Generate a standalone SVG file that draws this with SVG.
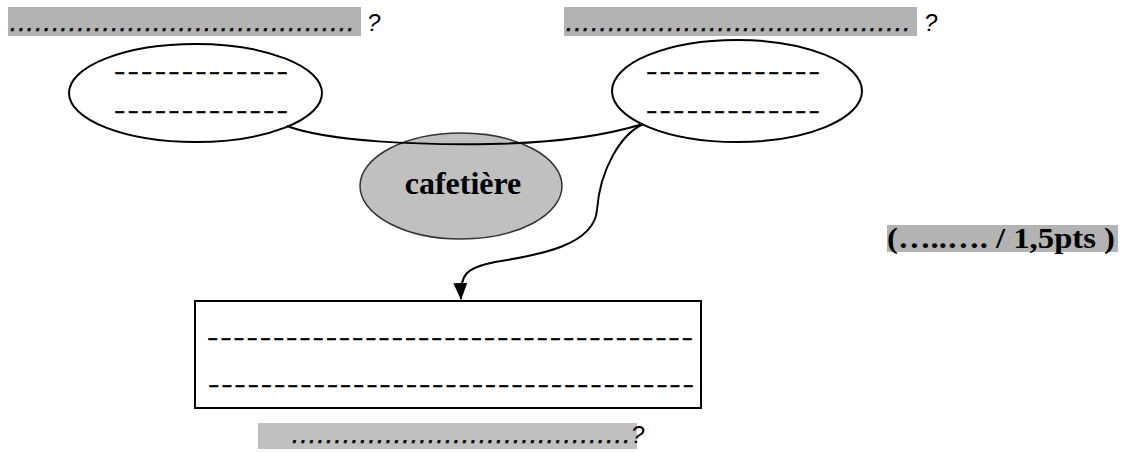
<svg xmlns="http://www.w3.org/2000/svg" width="1125" height="452" viewBox="0 0 1125 452">
<defs>
<marker id="arr" markerWidth="17" markerHeight="14" refX="16" refY="7" orient="auto" markerUnits="userSpaceOnUse" viewBox="0 0 17 14">
<path d="M0,0 L17,7 L0,14 Z" fill="#000"/>
</marker>
<style>
.hl{fill:#b3b3b3}
.hl2{fill:#c0c0c0}
.q{font-family:"Liberation Sans",Arial,sans-serif;font-style:italic;font-size:24px;fill:#000}
.dots{stroke:#000;stroke-width:0.6}
.dash{font-family:"Liberation Sans",Arial,sans-serif;font-weight:bold;font-size:17px;fill:#000;stroke:#000;stroke-width:0.5}
.node{fill:#fff;stroke:#000;stroke-width:2}
.b{font-family:"Liberation Serif","Times New Roman",serif;font-weight:bold;fill:#000}
.conn{fill:none;stroke:#000;stroke-width:2}
</style>
</defs>
<rect width="1125" height="452" fill="#fff"/>
<g id="q1">
<rect class="hl" x="8" y="7" width="353" height="29"/>
<text class="q dots" x="10" y="31" textLength="344" lengthAdjust="spacing">.........................................</text>
<text class="q" x="367" y="31">?</text>
</g>
<g id="q2">
<rect class="hl" x="564" y="7" width="353" height="29"/>
<text class="q dots" x="566" y="31" textLength="344" lengthAdjust="spacing">.........................................</text>
<text class="q" x="924" y="31">?</text>
</g>
<g id="left">
<ellipse class="node" cx="195.5" cy="93" rx="126.5" ry="49"/>
<text class="dash" x="115" y="78" textLength="172" lengthAdjust="spacing">–––––––––––––</text>
<text class="dash" x="115" y="117" textLength="172" lengthAdjust="spacing">–––––––––––––</text>
</g>
<g id="right">
<ellipse class="node" cx="737" cy="91" rx="125" ry="51"/>
<text class="dash" x="647" y="78" textLength="172" lengthAdjust="spacing">–––––––––––––</text>
<text class="dash" x="647" y="117" textLength="172" lengthAdjust="spacing">–––––––––––––</text>
</g>
<g id="cafetiere">
<ellipse cx="461" cy="186" rx="101" ry="53" fill="#c0c0c0" stroke="#333" stroke-width="1.5"/>
<text class="b" x="463" y="194" font-size="32" text-anchor="middle">cafetière</text>
</g>
<g id="connectors">
<path class="conn" d="M287,126 C330,142 420,145 490,144 C560,143 610,134 643,124"/>
<path class="conn" d="M643,124 C620,135 600,170 597,210 C594,245 540,255 495,262 C465,268 460,275 461,299" marker-end="url(#arr)"/>
</g>
<g id="score">
<rect class="hl" x="887" y="225" width="231" height="27"/>
<text class="b" x="887" y="248" font-size="30" textLength="228" lengthAdjust="spacingAndGlyphs">(…..…. / 1,5pts )</text>
</g>
<g id="box">
<rect class="node" x="195" y="301" width="506" height="107"/>
<text class="dash" x="208" y="344" textLength="484" lengthAdjust="spacing">–––––––––––––––––––––––––––––––––––––</text>
<text class="dash" x="209" y="391" textLength="484" lengthAdjust="spacing">–––––––––––––––––––––––––––––––––––––</text>
</g>
<g id="q3">
<rect class="hl2" x="258" y="423" width="379" height="26"/>
<text class="q dots" x="292" y="443" textLength="338" lengthAdjust="spacing">........................................</text>
<text class="q" x="631" y="443">?</text>
</g>
</svg>
